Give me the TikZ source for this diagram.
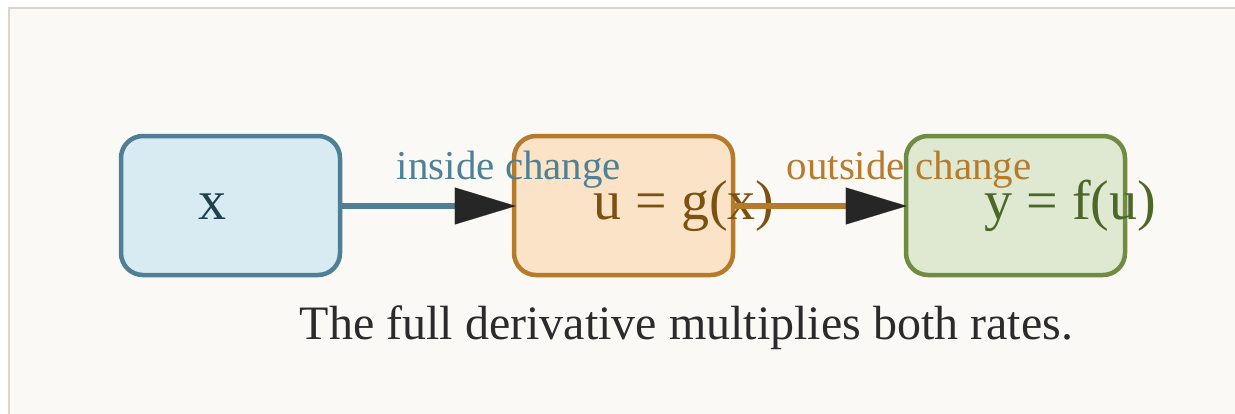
\documentclass[tikz,border=0pt]{standalone}
\usepackage{fontspec}
\setmainfont{Liberation Serif}
\usetikzlibrary{arrows.meta}
\definecolor{bgpaper}{HTML}{FAF9F6}
\definecolor{framecol}{HTML}{DCD5CE}
\definecolor{xfill}{HTML}{D8EBF2}
\definecolor{xdraw}{HTML}{4E7F94}
\definecolor{xtext}{HTML}{1E4150}
\definecolor{ufill}{HTML}{FBE3C7}
\definecolor{udraw}{HTML}{B57A2A}
\definecolor{utext}{HTML}{7C5212}
\definecolor{yfill}{HTML}{DFE8D1}
\definecolor{ydraw}{HTML}{6F8C42}
\definecolor{ytext}{HTML}{4B6829}
\definecolor{inlab}{HTML}{4E8196}
\definecolor{outlab}{HTML}{B77B2C}
\definecolor{headcol}{HTML}{262626}
\definecolor{captcol}{HTML}{2B2B2B}
\tikzset{
  boxnode/.style={rectangle, rounded corners=22pt, line width=4.5pt, minimum width=219pt, minimum height=139pt, inner sep=0pt},
  boxtext/.style={anchor=base, inner sep=0pt, font=\fontsize{56}{60}\selectfont},
  labtext/.style={anchor=base, inner sep=0pt, font=\fontsize{41}{45}\selectfont},
  capttext/.style={anchor=base, inner sep=0pt, font=\fontsize{48}{52}\selectfont, text=captcol},
  flow/.style={line width=6pt, -{Triangle[length=61pt, width=37pt, line width=0.1pt, color=headcol]}}
}
\begin{document}
\begin{tikzpicture}[x=1pt, y=-1pt]
\useasboundingbox (0,0) rectangle (1235,413);
\fill[white] (0,0) rectangle (1235,413);
\filldraw[fill=bgpaper, draw=framecol, line width=1.5pt] (9,8) rectangle (1250,430);
\node[boxnode, fill=xfill, draw=xdraw] (bx) at (230.5,205.5) {};
\node[boxnode, fill=ufill, draw=udraw] (bu) at (623.5,205.5) {};
\node[boxnode, fill=yfill, draw=ydraw] (by) at (1015.5,205.5) {};
\node[boxtext, text=xtext] (tx) at (212.5,219) {x};
\node[boxtext, text=utext] (tu) at (684,219) {u = g(x)};
\node[boxtext, text=ytext] (ty) at (1070.5,219) {y = f(u)};
\coordinate (e1) at ([xshift=4pt]bu.west);
\coordinate (e2) at ([xshift=3pt]by.west);
\draw[flow, draw=xdraw] ([yshift=-0.5pt]bx.east) -- ([yshift=-0.5pt]e1);
\draw[flow, draw=udraw] ([yshift=-0.5pt]bu.east) -- ([yshift=-0.5pt]e2);
\node[labtext, text=inlab] (l1) at (509,179) {inside change};
\node[labtext, text=outlab] (l2) at (909,179) {outside change};
\node[capttext] (cap) at (686.5,339) {The full derivative multiplies both rates.};
\end{tikzpicture}
\end{document}
